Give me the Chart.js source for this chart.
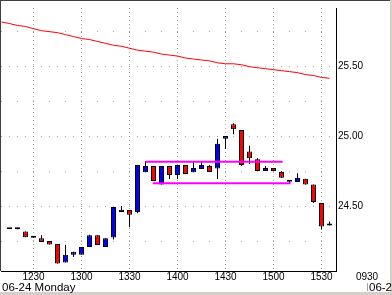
<!DOCTYPE html>
<html>
<head>
<meta charset="utf-8">
<script src="https://cdn.jsdelivr.net/npm/chart.js@4"></script>
<style>
  html, body { margin: 0; padding: 0; background: #fff; }
</style>
</head>
<body>
<canvas id="chartPrice" width="392" height="295"></canvas>
<script>
const chartPrice = document.getElementById('chartPrice');

// 5 minute bars, 06-24
const times = [
  '1210', '1215', '1220', '1225', '1230', '1235', '1240', '1245', '1250', '1255',
  '1300', '1305', '1310', '1315', '1320', '1325', '1330', '1335', '1340', '1345',
  '1350', '1355', '1400', '1405', '1410', '1415', '1420', '1425', '1430', '1435',
  '1440', '1445', '1450', '1455', '1500', '1505', '1510', '1515', '1520', '1525',
  '1530', '1535',
];
const open = [
  null, 24.34, 24.34, 24.324, 24.284, 24.276, 24.255, 24.234, 24.102, 24.158,
  24.158, 24.213, 24.297, 24.213, 24.28, 24.463, 24.477, 24.463, 24.745, 24.79,
  24.658, 24.79, 24.727, 24.797, 24.745, 24.769, 24.79, 24.773, 24.984, 25.088,
  25.047, 24.894, 24.838, 24.755, 24.776, 24.748, 24.685, 24.676, 24.699, 24.658,
  24.526, 24.366,
];
const high = [
  null, 24.34, 24.35, 24.324, 24.284, 24.297, 24.255, 24.234, 24.229, 24.179,
  24.213, 24.30, 24.297, 24.276, 24.498, 24.505, 24.477, 24.797, 24.824, 24.79,
  24.79, 24.79, 24.797, 24.797, 24.824, 24.817, 24.797, 24.984, 25.005, 25.095,
  25.047, 24.935, 24.845, 24.79, 24.776, 24.755, 24.685, 24.738, 24.699, 24.658,
  24.526, 24.394,
];
const low = [
  null, 24.34, 24.34, 24.282, 24.278, 24.248, 24.231, 24.095, 24.102, 24.141,
  24.158, 24.213, 24.227, 24.213, 24.266, 24.463, 24.354, 24.454, 24.745, 24.683,
  24.658, 24.697, 24.697, 24.734, 24.745, 24.769, 24.748, 24.697, 24.912, 25.016,
  24.79, 24.804, 24.755, 24.755, 24.755, 24.706, 24.665, 24.676, 24.658, 24.526,
  24.338, 24.366,
];
const close = [
  null, 24.34, 24.34, 24.282, 24.278, 24.248, 24.231, 24.095, 24.158, 24.179,
  24.213, 24.297, 24.227, 24.276, 24.498, 24.479, 24.442, 24.797, 24.79, 24.683,
  24.79, 24.727, 24.797, 24.734, 24.776, 24.797, 24.748, 24.949, 25.005, 25.053,
  24.797, 24.845, 24.755, 24.776, 24.755, 24.706, 24.678, 24.706, 24.658, 24.533,
  24.359, 24.366,
];
// moving average (red)
const ma = [
  25.817, 25.806, 25.792, 25.785, 25.769, 25.755, 25.748, 25.741, 25.727, 25.713,
  25.699, 25.692, 25.678, 25.665, 25.651, 25.644, 25.630, 25.616, 25.609, 25.602,
  25.588, 25.581, 25.574, 25.560, 25.553, 25.546, 25.540, 25.526, 25.519, 25.519,
  25.512, 25.498, 25.491, 25.484, 25.477, 25.470, 25.463, 25.456, 25.442, 25.435,
  25.422, 25.415,
];
// range lines (magenta): [from bar, to bar, price]
const rangeHigh = [18, 35.15, 24.821];
const rangeLow = [18.9, 36.15, 24.668];

const timeTicks = ['1230', '1300', '1330', '1400', '1430', '1500', '1530'];
const priceTicks = [24.25, 24.50, 24.75, 25.00, 25.25, 25.50, 25.75];
const dayLabel = '06-24 Monday';
const nextLabel = '0930';
const nextDay = '06-2';

const bars = times.map((t, i) => i).filter(i => open[i] !== null);
const bodyData = bars.map(i => ({ x: i, y: [Math.min(open[i], close[i]), Math.max(open[i], close[i])] }));
const wickData = bars.map(i => ({ x: i, y: [low[i], high[i]] }));
const bodyColors = bars.map(i => close[i] > open[i] ? '#0000ff' : close[i] < open[i] ? '#ff0000' : '#000000');
const maData = ma.map((v, i) => ({ x: i, y: v }));

const isMajor = v => Math.abs(v * 2 - Math.round(v * 2)) < 1e-6;

const frame = {
  id: 'frame',
  beforeDraw(chart) {
    const { ctx, width, height } = chart;
    ctx.save();
    ctx.fillStyle = '#ffffff';
    ctx.fillRect(0, 0, width, height);
    ctx.restore();
  },
  afterDraw(chart) {
    const { ctx, chartArea } = chart;
    ctx.save();
    // outer frame
    ctx.strokeStyle = '#404040';
    ctx.lineWidth = 1;
    ctx.beginPath();
    ctx.moveTo(0.5, 0);
    ctx.lineTo(0.5, chartArea.bottom);
    ctx.moveTo(0, 0.5);
    ctx.lineTo(392, 0.5);
    ctx.stroke();
    // window edge
    ctx.fillStyle = '#d4d0c8';
    ctx.fillRect(0, 292, 392, 3);
    ctx.fillRect(390, 0, 2, 295);
    ctx.fillStyle = '#ffffff';
    ctx.fillRect(0, 291, 390, 1);
    // extra axis text
    ctx.fillStyle = '#000000';
    ctx.font = '10px "Liberation Sans", Arial, sans-serif';
    ctx.textBaseline = 'top';
    ctx.textAlign = 'center';
    ctx.fillText(nextLabel, 367, 272);
    ctx.textAlign = 'left';
    ctx.font = '11.5px "Liberation Sans", Arial, sans-serif';
    ctx.fillText(dayLabel, 2, 282);
    ctx.fillText(nextDay, 369, 282);
    ctx.strokeStyle = '#a0a0a0';
    ctx.beginPath();
    ctx.moveTo(367.5, 283);
    ctx.lineTo(367.5, 291);
    ctx.stroke();
    ctx.restore();
  },
};

Chart.defaults.font.family = '"Liberation Sans", Arial, sans-serif';
Chart.defaults.font.size = 10;
Chart.defaults.color = '#000000';

new Chart(chartPrice, {
  type: 'bar',
  data: {
    datasets: [
      {
        type: 'line',
        data: maData,
        borderColor: '#ff0000',
        borderWidth: 1,
        pointRadius: 0,
        tension: 0,
        order: 0,
      },
      {
        type: 'line',
        data: [{ x: rangeHigh[0], y: rangeHigh[2] }, { x: rangeHigh[1], y: rangeHigh[2] }],
        borderColor: '#ff00ff',
        borderWidth: 2,
        pointRadius: 0,
        order: 1,
      },
      {
        type: 'line',
        data: [{ x: rangeLow[0], y: rangeLow[2] }, { x: rangeLow[1], y: rangeLow[2] }],
        borderColor: '#ff00ff',
        borderWidth: 2,
        pointRadius: 0,
        order: 1,
      },
      {
        data: bodyData,
        backgroundColor: bodyColors,
        borderColor: '#000000',
        borderWidth: 1,
        borderSkipped: false,
        barThickness: 5,
        minBarLength: 2,
        inflateAmount: 0,
        grouped: false,
        order: 2,
      },
      {
        data: wickData,
        backgroundColor: '#000000',
        borderWidth: 0,
        barThickness: 1,
        inflateAmount: 0,
        grouped: false,
        order: 3,
      },
    ],
  },
  options: {
    responsive: false,
    animation: false,
    devicePixelRatio: 1,
    layout: { padding: { left: 1, top: 1, right: 0, bottom: 0 } },
    plugins: {
      legend: { display: false },
      tooltip: { enabled: false },
    },
    scales: {
      x: {
        type: 'linear',
        min: -0.0625,
        max: 41.8125,
        offset: false,
        afterBuildTicks: (scale) => {
          scale.ticks = timeTicks.map(t => ({ value: times.indexOf(t) }));
        },
        afterFit: (scale) => { scale.height = 24; },
        ticks: {
          autoSkip: false,
          maxRotation: 0,
          padding: 0,
          callback: (v) => times[v],
        },
        grid: {
          offset: false,
          drawTicks: false,
          color: '#a8a8a8',
        },
        border: {
          color: '#000000',
          width: 1,
          dash: [1, 3],
        },
      },
      y: {
        position: 'right',
        min: 24.0417,
        max: 25.9167,
        afterBuildTicks: (scale) => {
          scale.ticks = priceTicks.map(v => ({ value: v }));
        },
        afterFit: (scale) => { scale.width = 56; },
        ticks: {
          padding: 2,
          callback: (v) => isMajor(v) ? v.toFixed(2) : '',
        },
        grid: {
          drawTicks: false,
          color: '#a8a8a8',
        },
        border: {
          color: '#000000',
          width: 1,
          dash: (ctx) => (ctx.tick && isMajor(ctx.tick.value)) ? [1, 7] : [1, 15],
        },
      },
    },
  },
  plugins: [frame],
});
</script>
</body>
</html>
